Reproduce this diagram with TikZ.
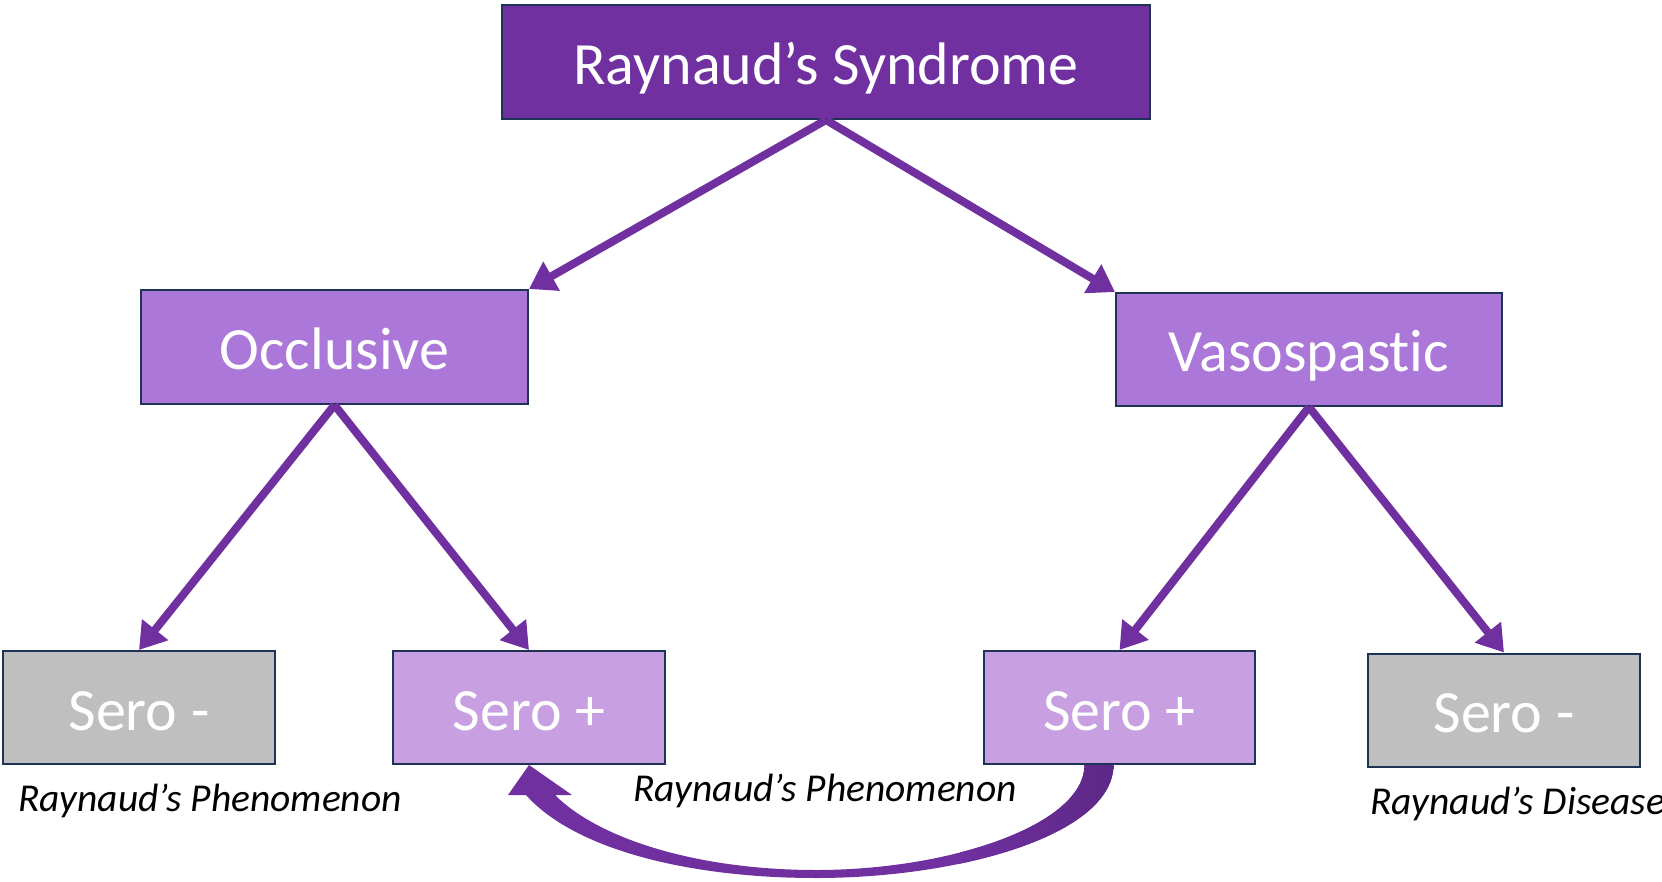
\documentclass[tikz,border=0pt]{standalone}
\usepackage{fontspec}
\setmainfont[Ligatures=NoCommon]{Carlito}
\usetikzlibrary{arrows.meta,calc}
\definecolor{darkp}{HTML}{7030A0}
\definecolor{darkerp}{HTML}{5B2885}
\definecolor{midp}{HTML}{AB77D9}
\definecolor{lightp}{HTML}{C8A0E2}
\definecolor{greybox}{HTML}{BFBFBF}
\definecolor{navy}{HTML}{1F3357}
\begin{document}
\begin{tikzpicture}[x=1pt,y=-1pt,
  box/.style={draw=navy, line width=2pt, text=white, font=\fontsize{60}{60}\selectfont,
    text height=45pt, text depth=0pt, inner sep=0pt, minimum height=113pt},
  conn/.style={draw=darkp, line width=8pt, -{Triangle[length=26pt,width=32pt]}},
  lab/.style={font=\fontsize{39.5}{39.5}\selectfont\itshape, anchor=base, text=black, inner sep=0pt}]
\useasboundingbox (0,0) rectangle (1662,882);
\node[box, fill=darkp, minimum width=648pt, minimum height=114pt] (top) at (826,62) {Raynaud’s Syndrome};
\node[box, fill=midp, minimum width=387pt, minimum height=114pt] (occ) at (334.5,347) {Occlusive};
\node[box, fill=midp, minimum width=386pt] (vaso) at (1309,349.5) {Vasospast\kern0pt ic};
\node[box, fill=greybox, minimum width=272pt] (snl) at (139,707.5) {Sero -};
\node[box, fill=lightp, minimum width=272pt] (spl) at (529,707.5) {Sero +};
\node[box, fill=lightp, minimum width=271pt] (spr) at (1119.5,707.5) {Sero +};
\node[box, fill=greybox, minimum width=272pt] (snr) at (1504,710) {Sero -};

\draw[conn] (top.south) -- (occ.north east);
\draw[conn] (top.south) -- (vaso.north west);
\draw[conn] (occ.south) -- (snl.north);
\draw[conn] (occ.south) -- (spl.north);
\draw[conn] (vaso.south) -- (spr.north);
\draw[conn] (vaso.south) -- (snr.north);

\begin{scope}
\clip ($(spr.south)+(-6,0)$) .. controls (1113,835) and (960,878) .. (816,878)
  .. controls (690,878) and (575,850) .. (526,795) -- (508,795) -- (spl.south) -- (572,795) -- (555,795)
  .. controls (600,840) and (700,870) .. (816,870)
  .. controls (950,870) and (1084,825) .. ($(spr.south)+(-35,0)$) -- cycle;
\fill[darkp] (480,760) rectangle (1120,882);
\shade[left color=darkp, right color=darkerp] (960,760) rectangle (1120,882);
\end{scope}

\node[lab] (l1) at (210,811) {Raynaud’s Phenomenon};
\node[lab] (l2) at (825,801) {Raynaud’s Phenomenon};
\node[lab, anchor=base west] (l3) at (1370,814) {Raynaud’s Disease};
\end{tikzpicture}
\end{document}
